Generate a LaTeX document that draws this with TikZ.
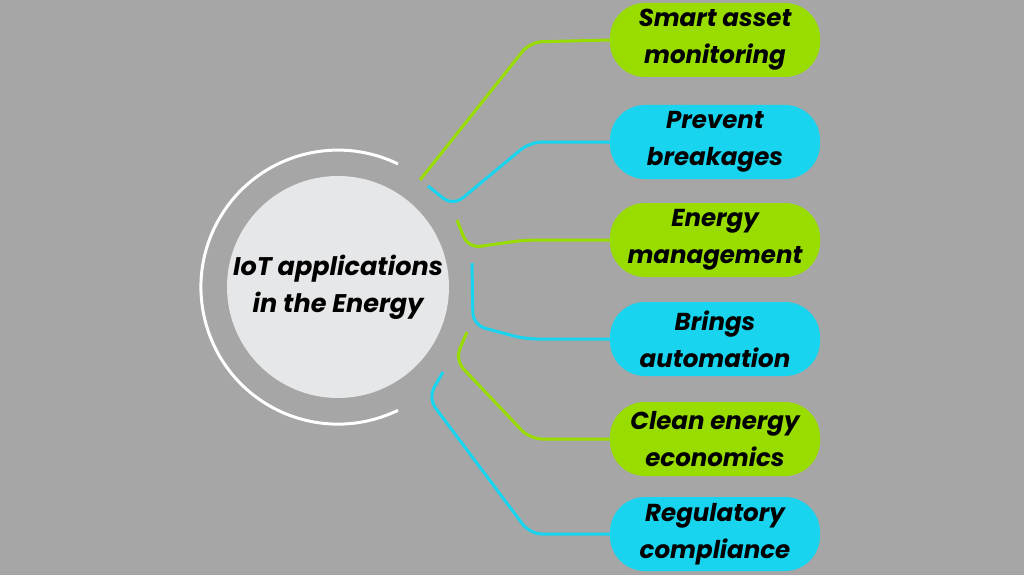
\documentclass[tikz,border=0pt]{standalone}
\usepackage{fontspec}
\setmainfont{Poppins}
\begin{document}
\begin{tikzpicture}[x=1pt,y=-1pt,
  pill/.style={rounded corners=35pt,minimum width=210pt,minimum height=74pt,inner sep=0pt,align=center,font=\fontsize{24.5}{37}\selectfont\bfseries\itshape},
  gline/.style={draw=grn,line width=3pt,rounded corners=12pt},
  cline/.style={draw=cyn,line width=3pt,rounded corners=12pt}]
\definecolor{bg}{HTML}{A6A6A6}
\definecolor{grn}{HTML}{99DD00}
\definecolor{cyn}{HTML}{18D4EE}
\definecolor{circ}{HTML}{E6E7E8}
\fill[bg] (0,0) rectangle (1024,575);
\useasboundingbox (0,0) rectangle (1024,575);
\node[circle,fill=circ,minimum size=222pt,inner sep=0pt,align=center,font=\fontsize{25.5}{37}\selectfont\bfseries\itshape] (c) at (338,287) {IoT applications\\in the Energy};
\draw[white,line width=3pt] (398,164) arc[start angle=-64,end angle=-296,radius=137];
\node[pill,fill=grn] (p1) at (715,40) {Smart asset\\monitoring};
\node[pill,fill=cyn] (p2) at (715,142) {Prevent\\breakages};
\node[pill,fill=grn] (p3) at (715,240) {Energy\\management};
\node[pill,fill=cyn] (p4) at (715,339) {Brings\\automation};
\node[pill,fill=grn] (p5) at (715,439) {Clean energy\\economics};
\node[pill,fill=cyn] (p6) at (715,534) {Regulatory\\compliance};
\coordinate (s1) at (420,180);
\coordinate (s2) at (428,186);
\coordinate (s3) at (457,220);
\coordinate (s4) at (472,263);
\coordinate (s5) at (467,332);
\coordinate (s6) at (443,372);
\draw[gline] (s1) -- (530,42) -- (p1.west);
\draw[cline] (s2) -- (453,206) -- (530,142) -- (p2.west);
\draw[gline] (s3) -- (468,248) -- (525,240) -- (p3.west);
\draw[cline] (s4) -- (473,325) -- (525,339) -- (p4.west);
\draw[gline] (s5) -- (455,360) -- (530,439) -- (p5.west);
\draw[cline] (s6) -- (428,398) -- (530,534) -- (p6.west);
\end{tikzpicture}
\end{document}
